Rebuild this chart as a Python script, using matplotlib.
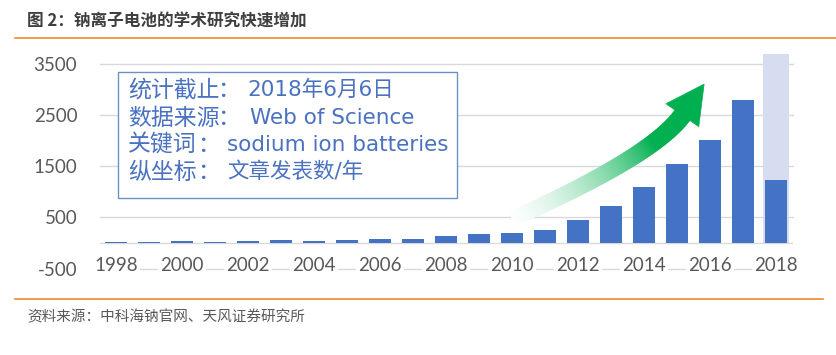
import numpy as np
import matplotlib
matplotlib.use("Agg")
import matplotlib.pyplot as plt
from matplotlib.patches import Polygon, Rectangle
from matplotlib.lines import Line2D
from matplotlib.transforms import IdentityTransform

# ---------------- data ----------------
years = list(range(1998, 2019))
papers = [20, 22, 35, 25, 40, 55, 45, 60, 75, 85, 140, 180, 200, 260,
          450, 730, 1090, 1550, 2020, 2810, 1240]
projected_2018 = 3700
yticks = [-500, 500, 1500, 2500, 3500]
xtick_years = list(range(1998, 2019, 2))

title = "图 2：钠离子电池的学术研究快速增加"
source = "资料来源：中科海钠官网、天风证券研究所"
note_labels = ["统计截止", "数据来源", "关键词", "纵坐标"]
note_values = ["2018年6月6日", "Web of Science", "sodium ion batteries", "文章发表数/年"]

# arrow annotation anchors (year, value)
arrow_tail = (2010.0, 470)
arrow_ctrl = (2014.3, 1705)
arrow_end = (2015.18, 2519)

# ---------------- style ----------------
BLUE = "#4472C4"
LIGHT = "#D6DDF0"
GRID = "#D9D9D9"
TXT = "#595959"
ORANGE = "#F08A2A"
NOTE = "#4A72C0"
GREEN = np.array([0x00, 0xB0, 0x50]) / 255.0
CJK = ["Noto Sans CJK SC", "DejaVu Sans"]
LAT = ["Lato", "Noto Sans CJK SC", "DejaVu Sans"]
BOX = ["DejaVu Sans", "Noto Sans CJK SC"]

W, H, DPI = 8.36, 3.55, 100
fig = plt.figure(figsize=(W, H), dpi=DPI)
fig.patch.set_facecolor("white")

ax_left = 99.5 / 836
ax_w = 693 / 836
ax_bot = (355 - 268.5) / 355
ax_h = (268.5 - 49) / 355
ax = fig.add_axes([ax_left, ax_bot, ax_w, ax_h])

ax.set_xlim(years[0] - 0.5, years[-1] + 0.5)
ax.set_ylim(-500, 3800)

# gridlines
for yv in yticks:
    ax.axhline(yv, color=GRID, lw=1.0, zorder=0.5, clip_on=False)
ax.axhline(0, color=GRID, lw=1.0, zorder=0.6)

# bars
ax.bar([years[-1]], [projected_2018], width=0.76, color=LIGHT, zorder=2)
ax.bar(years, papers, width=0.67, color=BLUE, zorder=3)

for s in ax.spines.values():
    s.set_visible(False)

ax.set_yticks(yticks)
ax.set_yticklabels([str(v) for v in yticks])
ax.set_xticks(xtick_years)
ax.set_xticklabels([str(v) for v in xtick_years])
ax.tick_params(axis="y", length=0, pad=16, labelsize=13.5, labelcolor=TXT)
ax.tick_params(axis="x", length=0, pad=-8, labelsize=13.5, labelcolor=TXT)
for lab in ax.get_xticklabels() + ax.get_yticklabels():
    lab.set_fontfamily(LAT)
for lab in ax.get_xticklabels():
    lab.set_bbox(dict(facecolor="white", edgecolor="none", pad=1.5))
    lab.set_zorder(5)
ax.set_axisbelow(False)

# note box
ax.add_patch(Rectangle((0.0267, 0.3212), 0.516 - 0.0267, 0.8952 - 0.3212,
                       transform=ax.transAxes, facecolor="white",
                       edgecolor="#6F8FC6", lw=1.0, zorder=4))
line_y = [0.8132, 0.6856, 0.5626, 0.4396]
colon_x = [0.188, 0.188, 0.158, 0.158]
value_x = [0.2136, 0.2172, 0.184, 0.184]
for lab, val, yy, cx, vx in zip(note_labels, note_values, line_y, colon_x, value_x):
    ax.text(0.041, yy, lab, transform=ax.transAxes, ha="left", va="center",
            fontsize=16.5, color=NOTE, family=CJK, zorder=5)
    ax.text(cx, yy, "：", transform=ax.transAxes, ha="center", va="center",
            fontsize=16.5, color=NOTE, family=CJK, zorder=5)
    ax.text(vx, yy, val, transform=ax.transAxes, ha="left", va="center",
            fontsize=15.5, color=NOTE, family=BOX, zorder=5)

# gradient curved arrow (drawn in display space)
fig.canvas.draw()
P = ax.transData.transform(np.array([arrow_tail, arrow_ctrl, arrow_end]))
t = np.linspace(0, 1, 120)
pts = ((1 - t)[:, None] ** 2) * P[0] + (2 * (1 - t) * t)[:, None] * P[1] + (t[:, None] ** 2) * P[2]
der = 2 * (1 - t)[:, None] * (P[1] - P[0]) + 2 * t[:, None] * (P[2] - P[1])
tan = der / np.linalg.norm(der, axis=1)[:, None]
nrm = np.column_stack([-tan[:, 1], tan[:, 0]])
half = (7.5 + 1.5 * t)[:, None]
up = pts + nrm * half
dn = pts - nrm * half
for i in range(len(t) - 1):
    a = min(1.0, 0.03 + (t[i] / 0.7)) ** 1.4
    c = (1 - a) * np.ones(3) + a * GREEN
    poly = Polygon([up[i], up[i + 1], dn[i + 1], dn[i]], closed=True,
                   transform=IdentityTransform(), facecolor=c, edgecolor=c,
                   lw=0.6, zorder=6)
    fig.add_artist(poly)
d = tan[-1]
n = nrm[-1]
tip = P[2] + d * 37
c1 = P[2] + n * 20 - d * 1
c2 = P[2] - n * 20 - d * 1
fig.add_artist(Polygon([tip, c1, c2], closed=True, transform=IdentityTransform(),
                       facecolor=GREEN, edgecolor=GREEN, lw=0.5, zorder=7))

# title, lines, source
fig.text(27 / 836, 1 - 21.5 / 355, title, ha="left", va="center", fontsize=12,
         fontweight="bold", color="#3F3F3F", family=CJK)
fig.add_artist(Line2D([15 / 836, 1.0], [1 - 38 / 355] * 2, color=ORANGE, lw=1.2))
fig.add_artist(Line2D([15 / 836, 823 / 836], [1 - 299 / 355] * 2, color=ORANGE, lw=1.2))
fig.text(27 / 836, 1 - 317 / 355, source, ha="left", va="center", fontsize=10.5,
         color=TXT, family=CJK)

fig.savefig("out.png", dpi=DPI, facecolor="white")
